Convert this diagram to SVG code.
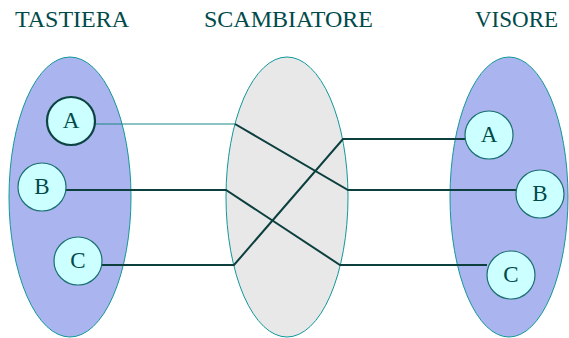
<svg xmlns="http://www.w3.org/2000/svg" width="569" height="338" viewBox="0 0 569 338">
  <style>
    .title { font-family: "Liberation Serif", "DejaVu Serif", serif; font-size: 24px; fill: #004a4a; }
    .label { font-family: "Liberation Serif", "DejaVu Serif", serif; font-size: 23px; fill: #004a4a; text-anchor: middle; }
    .group { fill: #aab4ee; stroke: #11989a; stroke-width: 1; }
    .switch { fill: #e8e8e8; stroke: #11989a; stroke-width: 1; }
    .key { fill: #ccffff; stroke: #1a7070; stroke-width: 1.2; }
    .key-bold { fill: #ccffff; stroke: #0c4444; stroke-width: 2.2; }
    .wire { fill: none; stroke: #0d3f3f; stroke-width: 2; }
    .wire-thin { fill: none; stroke: #1a8585; stroke-width: 1; }
  </style>

  <rect width="569" height="338" fill="#ffffff"/>

  <text class="title" x="15" y="27">TASTIERA</text>
  <text class="title" x="204" y="27">SCAMBIATORE</text>
  <text class="title" x="475" y="27" textLength="83" lengthAdjust="spacingAndGlyphs">VISORE</text>

  <g id="tastiera-area"><ellipse class="group" cx="70" cy="197" rx="61" ry="140"/></g>
  <g id="scambiatore"><ellipse class="switch" cx="287" cy="197" rx="61" ry="140"/></g>
  <g id="visore-area"><ellipse class="group" cx="509" cy="197" rx="59" ry="140"/></g>

  <g id="connectors">
    <!-- A: thin entry, crosses down to B out -->
    <polyline class="wire-thin" points="95,124 235,124"/>
    <polyline class="wire" points="235,124 348,190 516,190"/>
    <!-- B: crosses down to C out -->
    <polyline class="wire" points="66,190 226,190 340,265 487,265"/>
    <!-- C: crosses up to A out -->
    <polyline class="wire" points="102,265 234,265 343,139 465,139"/>
  </g>

  <g id="tastiera-A"><circle class="key-bold" cx="71" cy="121" r="24"/><text class="label" x="71" y="128">A</text></g>
  <g id="tastiera-B"><circle class="key" cx="42" cy="187" r="24"/><text class="label" x="42" y="194">B</text></g>
  <g id="tastiera-C"><circle class="key" cx="78" cy="261" r="24"/><text class="label" x="78" y="268">C</text></g>

  <g id="visore-A"><circle class="key" cx="489" cy="135" r="24"/><text class="label" x="489" y="142">A</text></g>
  <g id="visore-B"><circle class="key" cx="540" cy="194" r="24"/><text class="label" x="540" y="201">B</text></g>
  <g id="visore-C"><circle class="key" cx="511" cy="275" r="24"/><text class="label" x="511" y="282">C</text></g>
</svg>
